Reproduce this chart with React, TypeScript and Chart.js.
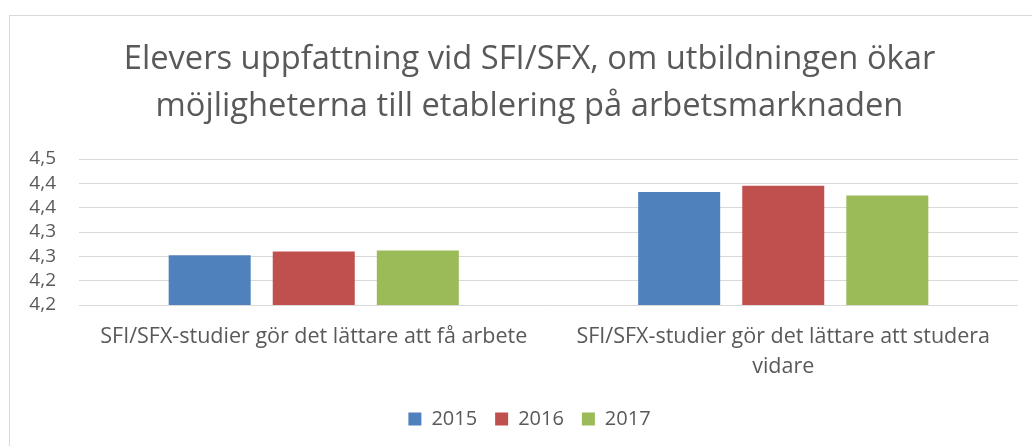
import React, { useEffect, useRef } from "react";
import { Chart, registerables } from "chart.js";

Chart.register(...registerables);

const titleLines = [
  "Elevers uppfattning vid SFI/SFX, om utbildningen ökar",
  "möjligheterna till etablering på arbetsmarknaden",
];
const categories: (string | string[])[] = [
  "SFI/SFX-studier gör det lättare att få arbete",
  ["SFI/SFX-studier gör det lättare att studera", "vidare"],
];
const seriesNames = ["2015", "2016", "2017"];
const values2015 = [4.302, 4.432];
const values2016 = [4.31, 4.445];
const values2017 = [4.312, 4.425];
const seriesColors = ["#4f81bd", "#c0504d", "#9bbb59"];
const yTickLabels = ["4,2", "4,2", "4,3", "4,3", "4,4", "4,4", "4,5"];

const FONT = "'Open Sans', sans-serif";
const TEXT = "#595959";
const GRID = "#d9d9d9";

export default function App() {
  const ref = useRef<HTMLCanvasElement | null>(null);

  useEffect(() => {
    if (!ref.current) return;
    const seriesValues = [values2015, values2016, values2017];
    const chart = new Chart(ref.current, {
      type: "bar",
      data: {
        labels: categories,
        datasets: seriesNames.map((name, i) => ({
          label: name,
          data: seriesValues[i],
          backgroundColor: seriesColors[i],
          borderWidth: 0,
          categoryPercentage: 0.665,
          barPercentage: 0.788,
        })),
      },
      options: {
        animation: false,
        responsive: false,
        maintainAspectRatio: false,
        layout: { padding: { left: 27, right: 0, top: 0, bottom: 7 } },
        font: { family: FONT },
        plugins: {
          tooltip: { enabled: false },
          title: {
            display: true,
            text: titleLines,
            color: TEXT,
            font: { family: FONT, size: 32.7, weight: "normal", lineHeight: 47 / 32.7 },
            padding: { top: 36, bottom: 29 },
          },
          legend: {
            display: true,
            position: "bottom",
            labels: {
              color: TEXT,
              font: { family: FONT, size: 20 },
              boxWidth: 13,
              boxHeight: 13,
              padding: 18,
            },
          },
        },
        scales: {
          x: {
            grid: { display: false, drawTicks: false },
            border: { display: false },
            ticks: {
              color: TEXT,
              font: { family: FONT, size: 21.5, lineHeight: 30 / 21.5 },
              padding: 17,
              maxRotation: 0,
              minRotation: 0,
              autoSkip: false,
            },
            afterFit: (scale: any) => {
              scale.height = 86;
            },
          },
          y: {
            min: 4.2,
            max: 4.5,
            grid: { color: GRID, lineWidth: 1, drawTicks: false },
            border: { display: false },
            ticks: {
              stepSize: 0.05,
              autoSkip: false,
              color: TEXT,
              font: { family: FONT, size: 19 },
              padding: 23,
              callback: (_v: any, i: number) => yTickLabels[i] ?? "",
            },
            afterFit: (scale: any) => {
              scale.width = 52;
            },
          },
          ySpacer: {
            type: "linear",
            position: "right",
            display: true,
            grid: { display: false, drawTicks: false },
            border: { display: false },
            ticks: { display: false },
            afterFit: (scale: any) => {
              scale.width = 14;
            },
          },
        },
      },
    });
    return () => chart.destroy();
  }, []);

  return (
    <div
      style={{
        position: "fixed",
        left: 0,
        top: 0,
        width: 1032,
        height: 446,
        background: "#ffffff",
        overflow: "hidden",
      }}
    >
      <div
        style={{
          position: "absolute",
          left: 9,
          top: 15,
          width: 1100,
          height: 500,
          borderTop: "1px solid #d9d9d9",
          borderLeft: "1px solid #d9d9d9",
        }}
      />
      <canvas
        ref={ref}
        width={1032}
        height={446}
        style={{ position: "absolute", left: 0, top: 0, width: 1032, height: 446 }}
      />
    </div>
  );
}
